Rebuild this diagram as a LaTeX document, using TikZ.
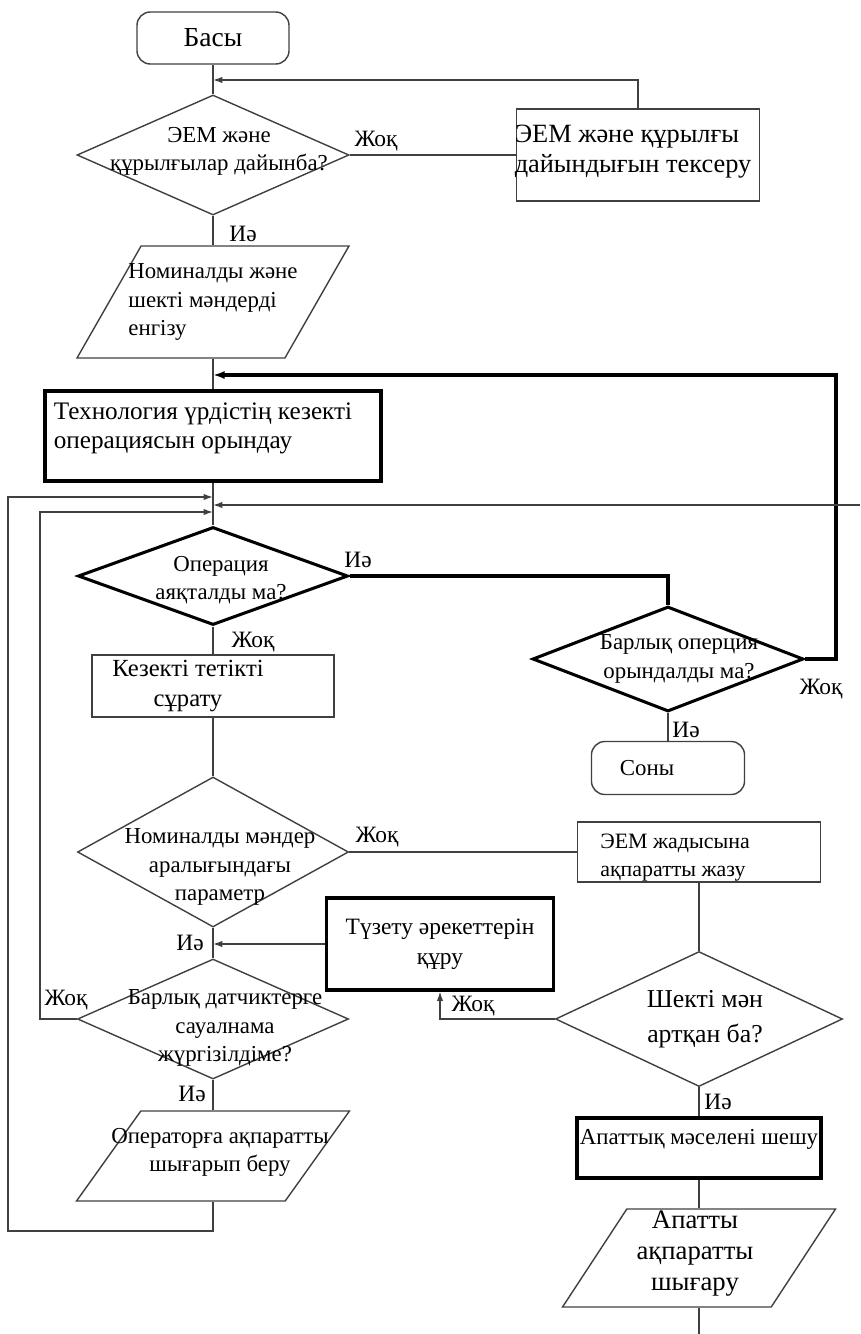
\documentclass[tikz,border=0pt]{standalone}
\usepackage{fontspec}
\setmainfont{Liberation Serif}
\usetikzlibrary{shapes.geometric,arrows.meta}

\newcommand{\px}{0.03cm}
\newcommand{\fsmall}{\fontsize{19.5}{24}\selectfont}
\newcommand{\flabel}{\fontsize{20}{22}\selectfont}
\newcommand{\fmid}{\fontsize{21}{25.6}\selectfont}
\newcommand{\fbig}{\fontsize{22.5}{26.5}\selectfont}
\newcommand{\fhuge}{\fontsize{22}{30}\selectfont}

\tikzset{
  box/.style={rectangle, draw=black!75, line width=1.2pt, inner sep=2pt},
  boxthick/.style={box, draw=black, line width=2.6pt},
  term/.style={box, rounded corners=0.4cm},
  decide/.style={diamond, draw=black!75, line width=1.2pt, inner sep=1pt},
  decidethick/.style={decide, draw=black, line width=2.6pt},
  io/.style={trapezium, trapezium left angle=66, trapezium right angle=114,
    trapezium stretches=true, draw=black!75, line width=1.2pt, inner sep=2pt},
  line/.style={draw=black!75, line width=1.2pt},
  thickline/.style={draw=black, line width=2.6pt},
  arr/.style={-{Latex[length=8pt,width=5.5pt]}},
  thickarr/.style={-{Latex[length=10pt,width=7pt]}},
  lbl/.style={font=\flabel, inner sep=0pt},
}

\begin{document}
\begin{tikzpicture}[x=\px, y=-\px, every node/.style={font=\fsmall}]
  \useasboundingbox (0,0) rectangle (860,1334);

  % left column
  \node[term, minimum width=152*\px, minimum height=52*\px, font=\fontsize{23.5}{26}\selectfont] (start) at (213,38) {Басы};
  \node[decide, minimum width=272*\px, minimum height=120*\px,
    label={[align=center, xshift=6*\px, yshift=4*\px]center:{ЭЕМ және\\құрылғылар дайынба?}}] (rdy) at (213,155) {};
  \node[io, minimum width=272*\px, minimum height=112*\px,
    label={[align=left]center:{Номиналды және\\шекті мәндерді\\енгізу}}] (inp) at (213,302) {};
  \node[boxthick, minimum width=336*\px, minimum height=90*\px,
    label={[align=left, xshift=-10*\px, yshift=8*\px, font=\fontsize{21.5}{24.7}\selectfont]center:{Технология үрдістің кезекті\\операциясын орындау}}] (oper) at (213,436) {};
  \node[decidethick, minimum width=270*\px, minimum height=98*\px,
    label={[align=center, xshift=8*\px, yshift=-4*\px]center:{Операция\\аяқталды ма?}}] (done) at (213,576) {};
  \node[box, minimum width=242*\px, minimum height=62*\px,
    label={[align=center, xshift=-25*\px, font=\fmid]center:{Кезекті тетікті\\сұрату}}] (ask) at (213,686) {};
  \node[decide, minimum width=271*\px, minimum height=150*\px,
    label={[align=center, xshift=7*\px, yshift=-15*\px]center:{Номиналды мәндер\\аралығындағы\\параметр}}] (rng) at (213,852) {};
  \node[decide, minimum width=271*\px, minimum height=120*\px,
    label={[align=center, xshift=12*\px, yshift=-9*\px]center:{Барлық датчиктерге\\сауалнама\\жүргізілдіме?}}] (all) at (213,1019) {};
  \node[io, minimum width=273*\px, minimum height=90*\px,
    label={[align=center, xshift=7*\px, yshift=4*\px]center:{Операторға ақпаратты\\шығарып беру}}] (out) at (213,1156) {};

  % right column
  \node[box, minimum width=243*\px, minimum height=92*\px,
    label={[align=left, xshift=-5*\px, yshift=3*\px, font=\fontsize{22.5}{25.6}\selectfont]center:{ЭЕМ және құрылғы\\дайындығын тексеру}}] (chk) at (638,155) {};
  \node[decidethick, minimum width=271*\px, minimum height=105*\px,
    label={[align=center, xshift=11*\px]center:{Барлық оперция\\орындалды ма?}}] (alld) at (668,659) {};
  \node[term, minimum width=153*\px, minimum height=53*\px,
    label={[xshift=-21*\px]center:Соны}] (fin) at (668,768) {};
  \node[box, minimum width=243*\px, minimum height=60*\px,
    label={[align=left, xshift=-24*\px, yshift=-6*\px, font=\fontsize{18.7}{24}\selectfont]center:{ЭЕМ жадысына\\ақпаратты жазу}}] (mem) at (699,852) {};
  \node[boxthick, minimum width=227*\px, minimum height=92*\px, align=center,
    font=\fontsize{20}{25.6}\selectfont] (fix) at (440,944) {Түзету әрекеттерін\\құру};
  \node[decide, minimum width=287*\px, minimum height=135*\px,
    label={[align=center, xshift=6*\px, font=\fhuge]center:{Шекті мән\\артқан ба?}}] (lim) at (699,1019) {};
  \node[boxthick, minimum width=244*\px, minimum height=60*\px,
    label={[yshift=9*\px]center:{Апаттық мәселені шешу}}] (solve) at (699,1148) {};
  \node[io, minimum width=273*\px, minimum height=98*\px,
    label={[align=center, xshift=-4*\px, yshift=4*\px, font=\fontsize{22.8}{26.5}\selectfont]center:{Апатты\\ақпаратты\\шығару}}] (alarm) at (699,1258) {};

  % junctions and free ends
  \coordinate (j1) at (213,80);
  \coordinate (j2) at (213,375);
  \coordinate (j3) at (213,497);
  \coordinate (j4) at (213,505);
  \coordinate (j5) at (213,512);
  \coordinate (j6) at (213,944);
  \coordinate (r1) at (836,375);
  \coordinate (l1) at (40,512);
  \coordinate (l2) at (8,1231);
  \coordinate (e1) at (860,505);
  \coordinate (e2) at (699,1334);

  % connectors
  \draw[line] (start.south) -- (rdy.north);
  \draw[line] (rdy.east) -- (chk.west);
  \draw[line, arr] (chk.north) |- (j1);
  \draw[line] (rdy.south) -- (inp.north);
  \draw[line] (inp.south) -- (oper.north);
  \draw[thickline, thickarr] (alld.east) -| (r1) -- (j2);
  \draw[line] (oper.south) -- (done.north);
  \draw[thickline] (done.east) -| (alld.north);
  \draw[line] (alld.south) -- (fin.north);
  \draw[line] (done.south) -- (ask.north);
  \draw[line] (ask.south) -- (rng.north);
  \draw[line] (rng.east) -- (mem.west);
  \draw[line] (mem.south) -- (lim.north);
  \draw[line, arr] (lim.west) -| (fix.south);
  \draw[line, arr] (fix.west) -- (j6);
  \draw[line] (rng.south) -- (all.north);
  \draw[line, arr] (all.west) -| (l1) -- (j5);
  \draw[line] (all.south) -- (out.north);
  \draw[line, arr] (out.south) |- (l2) |- (j3);
  \draw[line, arr] (e1) -- (j4);
  \draw[line] (lim.south) -- (solve.north);
  \draw[line] (solve.south) -- (alarm.north);
  \draw[line] (alarm.south) -- (e2);

  % answers
  \node[lbl] (n1) at (376,141) {Жоқ};
  \node[lbl] (y1) at (243,234) {Иә};
  \node[lbl] (y2) at (358,560) {Иә};
  \node[lbl] (n2) at (253,642) {Жоқ};
  \node[lbl] (n3) at (821,689) {Жоқ};
  \node[lbl] (y3) at (686,730) {Иә};
  \node[lbl] (n4) at (377,837) {Жоқ};
  \node[lbl] (y4) at (190,943) {Иә};
  \node[lbl] (n5) at (66,1000) {Жоқ};
  \node[lbl] (y5) at (192,1094) {Иә};
  \node[lbl] (n6) at (473,1006) {Жоқ};
  \node[lbl] (y6) at (718,1102) {Иә};
\end{tikzpicture}
\end{document}
